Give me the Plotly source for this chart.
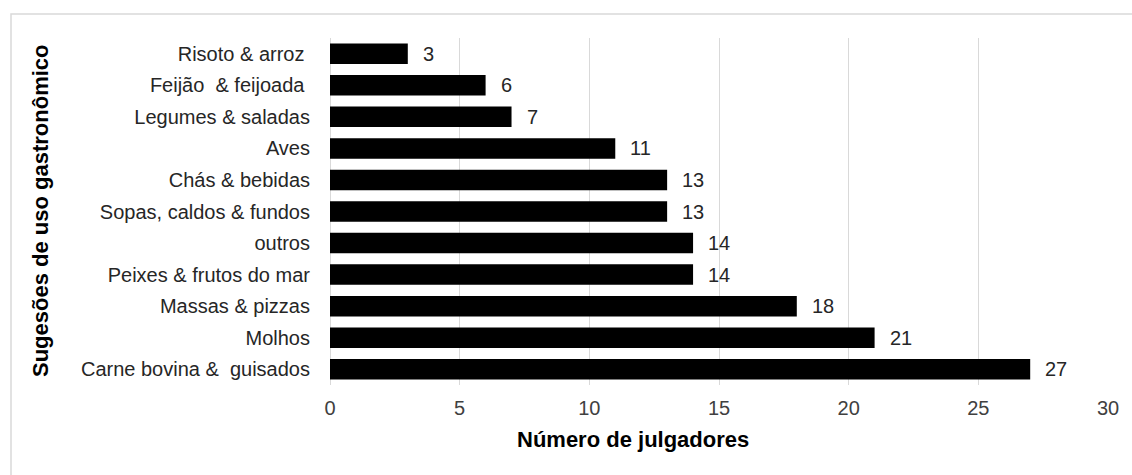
import plotly.graph_objects as go

categories = ["Risoto & arroz\u00a0", "Feijão\u00a0 & feijoada\u00a0", "Legumes & saladas", "Aves",
              "Chás & bebidas", "Sopas, caldos & fundos", "outros", "Peixes & frutos do mar",
              "Massas & pizzas", "Molhos", "Carne bovina &\u00a0 guisados"]
values = [3, 6, 7, 11, 13, 13, 14, 14, 18, 21, 27]
x_ticks = [0, 5, 10, 15, 20, 25, 30]

W, H = 1132, 475
L, R, T, B = 330, 24, 38, 90
pw, ph = W - L - R, H - T - B

def px(x):
    return (x - L) / pw

def py(y):
    return 1 - (y - T) / ph

font = "Arial, Liberation Sans, sans-serif"

fig = go.Figure(go.Bar(
    x=values, y=categories, orientation="h",
    marker=dict(color="#000000", line=dict(width=0)),
    hoverinfo="x+y",
))

annotations = [
    dict(x=v, y=c, xref="x", yref="y", text=str(v), showarrow=False,
         xanchor="left", xshift=13, font=dict(family=font, size=20, color="#262626"))
    for c, v in zip(categories, values)
]
annotations.append(dict(x=px(633), y=py(439), xref="paper", yref="paper",
                        xanchor="center", yanchor="middle",
                        text="<b>Número de julgadores</b>", showarrow=False,
                        font=dict(family=font, size=22, color="#000000")))
annotations.append(dict(x=px(40), y=py(211), xref="paper", yref="paper",
                        xanchor="center", yanchor="middle",
                        text="<b>Sugesões de uso gastronômico</b>", showarrow=False,
                        textangle=-90, font=dict(family=font, size=22, color="#000000")))

fig.update_layout(
    width=W, height=H,
    margin=dict(l=L, r=R, t=T, b=B),
    paper_bgcolor="white", plot_bgcolor="white",
    bargap=0.35,
    showlegend=False,
    annotations=annotations,
    shapes=[dict(type="rect", xref="paper", yref="paper",
                 x0=px(11), x1=px(1140), y0=py(480), y1=py(14),
                 line=dict(color="#d9d9d9", width=1.5), layer="below")],
    xaxis=dict(range=[0, 30], tickvals=x_ticks, showgrid=True, gridcolor="#d9d9d9",
               gridwidth=1, zeroline=True, zerolinecolor="#d9d9d9", zerolinewidth=1,
               showline=False, ticks="outside", ticklen=5, tickcolor="rgba(0,0,0,0)",
               tickfont=dict(family=font, size=20, color="#404040")),
    yaxis=dict(categoryorder="array", categoryarray=categories, autorange="reversed",
               showgrid=False, zeroline=False, showline=False, ticks="outside",
               ticklen=15, tickcolor="rgba(0,0,0,0)",
               tickfont=dict(family=font, size=20, color="#262626")),
)

fig.write_html("out.html")
